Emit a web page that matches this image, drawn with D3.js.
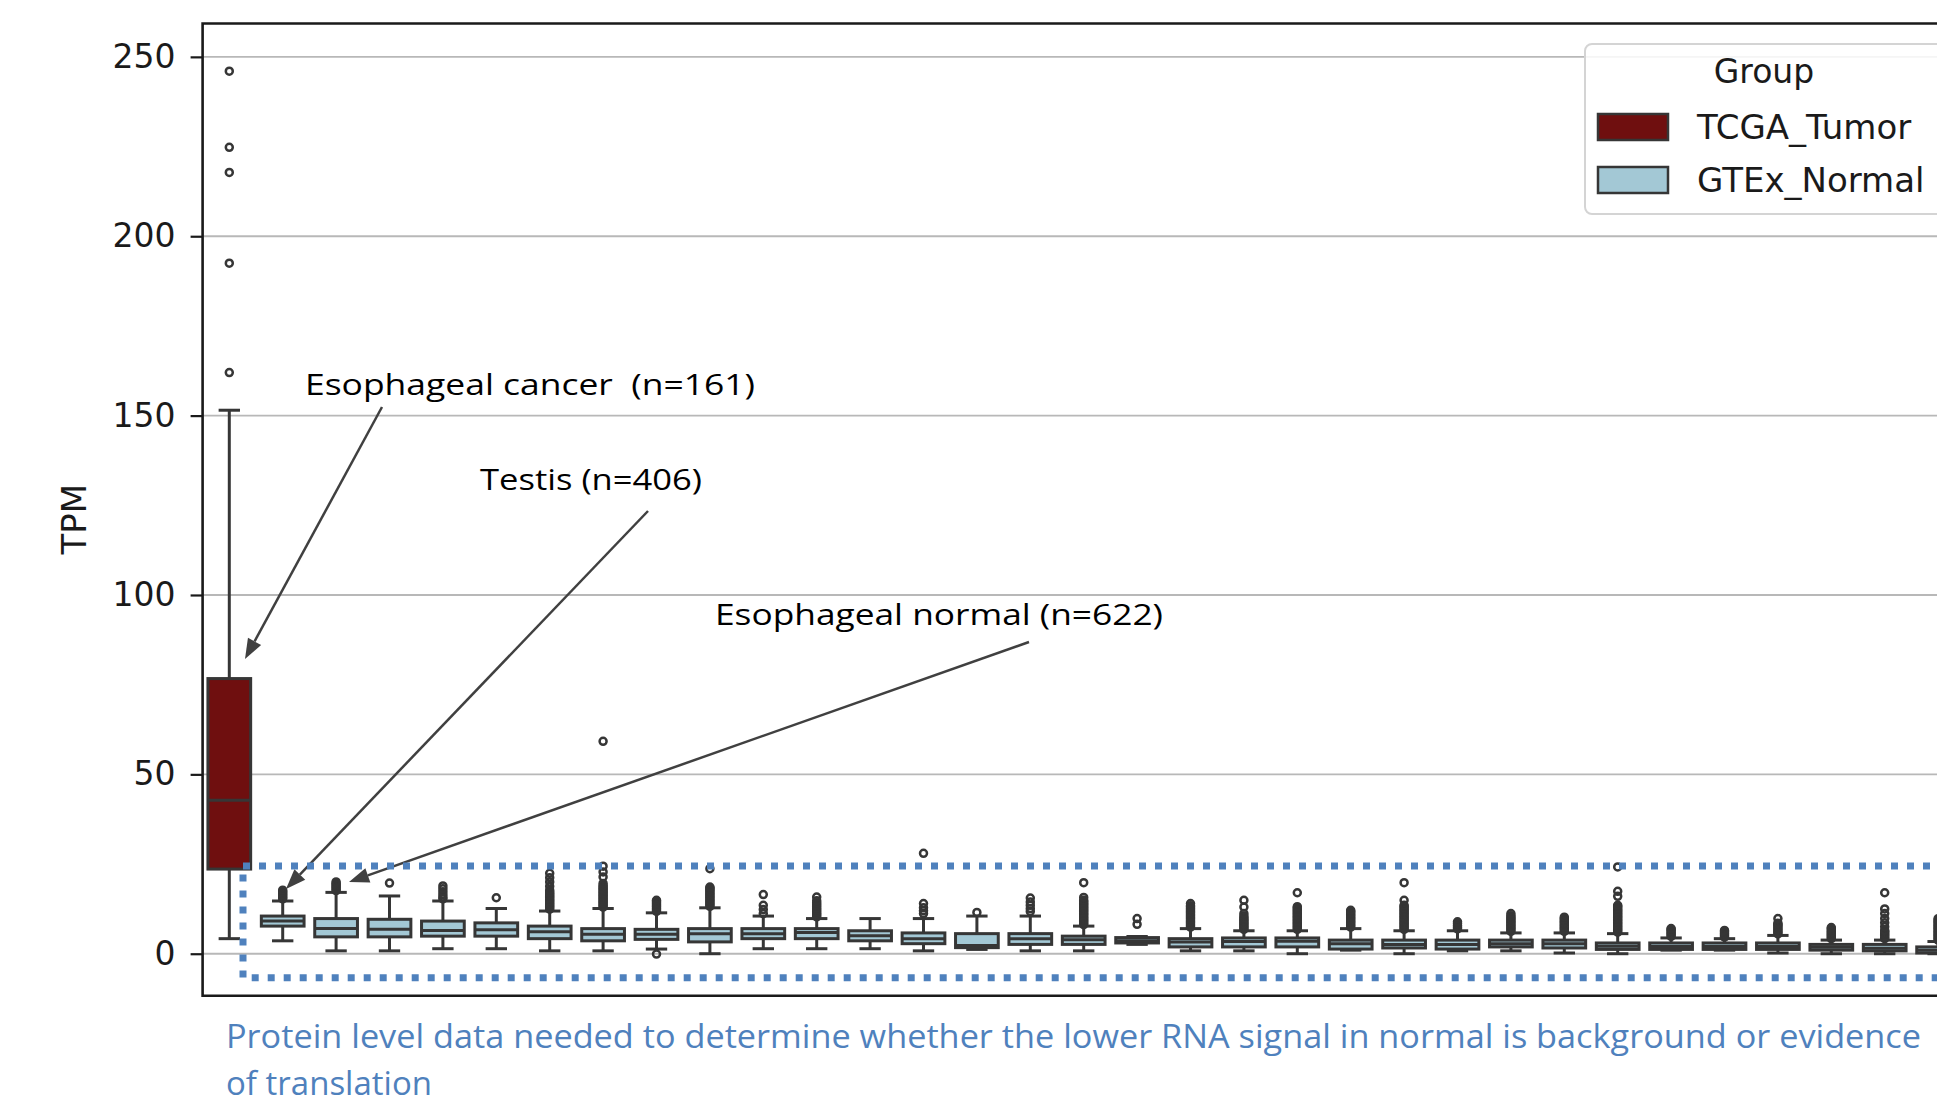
<!DOCTYPE html>
<html>
<head>
<meta charset="utf-8">
<script src="https://cdn.jsdelivr.net/npm/d3@7"></script>
<style>
  body { margin: 0; background: #fff; overflow: hidden; }
  svg { display: block; }
  .pre { white-space: pre; }
</style>
</head>
<body>
<div id="chart"></div>
<script>
// categories (x tick labels are outside the visible crop)
const tissues = [
  "Esophageal cancer", "Testis", "Esophageal normal", "GTEx_04", "GTEx_05", "GTEx_06",
  "GTEx_07", "GTEx_08", "GTEx_09", "GTEx_10", "GTEx_11", "GTEx_12", "GTEx_13",
  "GTEx_14", "GTEx_15", "GTEx_16", "GTEx_17", "GTEx_18", "GTEx_19", "GTEx_20",
  "GTEx_21", "GTEx_22", "GTEx_23", "GTEx_24", "GTEx_25", "GTEx_26", "GTEx_27",
  "GTEx_28", "GTEx_29", "GTEx_30", "GTEx_31", "GTEx_32", "GTEx_33"
];
const groups = ["TCGA_Tumor", "GTEx_Normal"];
const tissueGroup = ["TCGA_Tumor"].concat(tissues.slice(1).map(() => "GTEx_Normal"));

// box statistics (TPM)
const whiskerLow  = [4.2, 3.6, 0.8, 0.8, 1.4, 1.4, 0.8, 0.8, 1.3, 0.0, 1.4, 1.4, 1.4, 0.8, 1.2, 0.8, 0.8,
                     2.6, 0.8, 0.8, 0.0, 1.0, 0.0, 0.8, 0.8, 0.2, 0.0, 1.0, 1.0, 0.2, 0.0, 0.0, 0.0];
const q1          = [23.6, 7.7, 4.7, 4.7, 4.9, 4.9, 4.2, 3.6, 4.0, 3.3, 4.2, 4.2, 3.6, 2.8, 1.7, 2.6, 2.6,
                     3.0, 1.9, 1.9, 1.9, 1.3, 1.6, 1.3, 1.9, 1.6, 1.2, 1.2, 1.2, 1.2, 1.0, 0.8, 0.2];
const median      = [42.8, 9.1, 7.0, 6.8, 6.5, 6.7, 6.1, 5.4, 5.4, 5.6, 5.6, 5.9, 5.0, 4.2, 2.3, 4.2, 3.9,
                     3.6, 3.3, 3.4, 3.5, 2.8, 2.6, 2.6, 2.8, 2.8, 2.1, 2.0, 2.0, 2.0, 1.8, 1.5, 1.0];
const q3          = [76.7, 10.5, 9.8, 9.6, 9.1, 8.6, 7.7, 7.0, 6.8, 7.0, 7.0, 7.0, 6.4, 5.8, 5.6, 5.6, 4.9,
                     4.5, 4.2, 4.4, 4.4, 3.8, 3.8, 3.8, 3.8, 3.8, 3.0, 3.0, 3.0, 3.0, 2.6, 2.6, 1.9];
const whiskerHigh = [151.5, 14.7, 17.1, 16.1, 14.7, 12.6, 11.9, 12.6, 11.4, 12.8, 10.5, 9.8, 9.8, 9.8, 10.5, 10.5, 7.7,
                     4.8, 7.0, 6.4, 6.4, 7.0, 6.4, 6.4, 5.8, 5.8, 5.6, 4.4, 4.2, 5.1, 3.8, 3.8, 3.4];
const outliers = [
  [162.0, 192.5, 217.8, 224.8, 246.0],
  [15.3, 15.7, 16.1, 16.5, 16.9, 17.3, 17.7],
  [17.6, 18.0, 18.4, 18.8, 19.2, 19.6, 20.0],
  [19.7],
  [15.3, 15.8, 16.5, 17.3, 18.1, 18.9],
  [15.6],
  [12.4, 12.8, 13.2, 13.6, 14.0, 14.4, 14.8, 15.2, 15.6, 16.0, 16.4, 16.8, 17.2, 17.7, 18.8, 20.0, 21.2, 22.4],
  [13.0, 13.4, 13.8, 14.2, 14.6, 15.0, 15.4, 15.8, 16.2, 16.6, 17.0, 17.4, 17.8, 18.2, 18.6, 19.0, 19.6, 21.4, 22.8, 24.4, 59.2],
  [-0.1, 11.8, 12.2, 12.6, 13.0, 13.4, 13.8, 14.2, 14.6, 14.9],
  [13.2, 13.6, 14.0, 14.4, 14.8, 15.2, 15.6, 16.0, 16.4, 16.8, 17.2, 17.6, 18.0, 18.3, 18.6, 23.7],
  [11.2, 12.3, 13.5, 16.5],
  [10.3, 10.8, 11.2, 11.7, 12.2, 12.7, 13.2, 13.7, 14.2, 14.8, 15.8],
  [],
  [11.2, 12.0, 12.8, 14.0, 28.0],
  [11.5],
  [11.8, 12.6, 13.5, 14.4, 15.5],
  [8.1, 8.5, 8.9, 9.3, 9.7, 10.1, 10.5, 10.9, 11.3, 11.7, 12.1, 12.5, 12.9, 13.3, 13.7, 14.1, 14.5, 14.9, 15.7, 19.8],
  [8.2, 9.8],
  [7.4, 7.8, 8.2, 8.6, 9.0, 9.4, 9.8, 10.2, 10.6, 11.0, 11.4, 11.8, 12.2, 12.6, 13.0, 13.4, 14.0],
  [6.8, 7.2, 7.6, 8.0, 8.4, 8.8, 9.2, 9.6, 10.0, 10.5, 11.2, 13.0, 14.9],
  [6.8, 7.2, 7.6, 8.0, 8.4, 8.8, 9.2, 9.6, 10.0, 10.4, 10.8, 11.2, 11.6, 12.0, 12.4, 12.8, 13.1, 17.0],
  [7.4, 7.8, 8.2, 8.6, 9.0, 9.4, 9.8, 10.2, 10.6, 11.0, 11.4, 11.8, 12.1],
  [6.8, 7.2, 7.6, 8.0, 8.4, 8.8, 9.2, 9.6, 10.0, 10.4, 10.8, 11.2, 11.6, 12.0, 12.4, 12.8, 13.2, 13.5, 14.9, 19.8],
  [6.9, 7.4, 7.9, 8.4, 8.9],
  [6.2, 6.6, 7.0, 7.4, 7.8, 8.2, 8.6, 9.0, 9.4, 9.8, 10.2, 10.6, 11.2],
  [6.2, 6.6, 7.0, 7.4, 7.8, 8.2, 8.6, 9.0, 9.4, 9.8, 10.2],
  [6.0, 6.4, 6.8, 7.2, 7.6, 8.0, 8.4, 8.8, 9.2, 9.6, 10.0, 10.4, 10.8, 11.2, 11.6, 12.0, 12.4, 12.8, 13.2, 13.5, 16.0, 17.4, 24.2],
  [4.8, 5.2, 5.6, 6.0, 6.4, 6.8, 7.0],
  [4.6, 5.0, 5.4, 5.8, 6.2, 6.5],
  [5.5, 5.9, 6.3, 6.7, 7.1, 7.5, 7.9, 8.2, 8.5, 9.8],
  [4.2, 4.6, 5.0, 5.4, 5.8, 6.2, 6.6, 7.0, 7.3],
  [4.2, 4.6, 5.0, 5.4, 5.8, 6.2, 6.5, 7.5, 8.6, 9.8, 11.2, 12.5, 17.0],
  [3.8, 4.2, 4.6, 5.0, 5.4, 5.8, 6.2, 6.6, 7.0, 7.4, 7.8, 8.2, 8.6, 9.0, 9.4, 9.8]
];
const yTicks = [0, 50, 100, 150, 200, 250];
const yLabel = "TPM";
const legendTitle = "Group";
const notes = ["Esophageal cancer  (n=161)", "Testis (n=406)", "Esophageal normal (n=622)"];
const caption = [
  "Protein level data needed to determine whether the lower RNA signal in normal is background or evidence",
  "of translation"
];

const W = 1937, H = 1105;
const colors = { TCGA_Tumor: "#6f0f0f", GTEx_Normal: "#a3c8d5" };
const edge = "#363636";

const svg = d3.select("#chart").append("svg")
  .attr("width", W).attr("height", H)
  .style("font-family", "'DejaVu Sans', sans-serif");

const plotLeft = 202.6, plotTop = 23.5, plotBottom = 995.7, step = 53.4;

const x = d3.scaleBand().domain(tissues)
  .range([plotLeft, plotLeft + step * tissues.length]).padding(0);
const y = d3.scaleLinear().domain([-11.7, 259.3]).range([plotBottom, plotTop]);
const plotRight = x.range()[1];

// grid
svg.append("g").selectAll("line").data(yTicks).enter().append("line")
  .attr("x1", plotLeft).attr("x2", plotRight)
  .attr("y1", (d) => y(d)).attr("y2", (d) => y(d))
  .attr("stroke", "#b8b8b8").attr("stroke-width", 1.8);

// y axis
const yAxis = svg.append("g")
  .attr("transform", `translate(${plotLeft},0)`)
  .call(d3.axisLeft(y).tickValues(yTicks).tickSize(12).tickPadding(15));
yAxis.select(".domain").remove();
yAxis.selectAll(".tick line").attr("stroke", "#1a1a1a").attr("stroke-width", 2.2);
yAxis.selectAll(".tick text")
  .attr("fill", "#1a1a1a")
  .style("font-size", "33px")
  .style("font-family", "'DejaVu Sans', sans-serif");

svg.append("text")
  .attr("transform", `translate(86,${(y(yTicks[2]) + y(yTicks[3])) / 2 + 14}) rotate(-90)`)
  .attr("text-anchor", "middle")
  .attr("fill", "#1a1a1a")
  .style("font-size", "34px")
  .text(yLabel);

// boxes
const bw = x.bandwidth() * 0.8;
const lw = 3;
const boxes = svg.append("g");
tissues.forEach((t, i) => {
  const cx = x(t) + x.bandwidth() / 2;
  const g = boxes.append("g");
  g.append("line")
    .attr("x1", cx).attr("x2", cx)
    .attr("y1", y(whiskerLow[i])).attr("y2", y(q1[i]))
    .attr("stroke", edge).attr("stroke-width", lw);
  g.append("line")
    .attr("x1", cx).attr("x2", cx)
    .attr("y1", y(q3[i])).attr("y2", y(whiskerHigh[i]))
    .attr("stroke", edge).attr("stroke-width", lw);
  [whiskerLow[i], whiskerHigh[i]].forEach((v) => {
    g.append("line")
      .attr("x1", cx - bw / 4).attr("x2", cx + bw / 4)
      .attr("y1", y(v)).attr("y2", y(v))
      .attr("stroke", edge).attr("stroke-width", lw);
  });
  g.append("rect")
    .attr("x", cx - bw / 2).attr("width", bw)
    .attr("y", y(q3[i])).attr("height", y(q1[i]) - y(q3[i]))
    .attr("fill", colors[tissueGroup[i]])
    .attr("stroke", edge).attr("stroke-width", lw);
  g.append("line")
    .attr("x1", cx - bw / 2).attr("x2", cx + bw / 2)
    .attr("y1", y(median[i])).attr("y2", y(median[i]))
    .attr("stroke", edge).attr("stroke-width", lw);
  g.selectAll("circle").data(outliers[i]).enter().append("circle")
    .attr("cx", cx).attr("cy", (d) => y(d)).attr("r", 3.5)
    .attr("fill", "none").attr("stroke", edge).attr("stroke-width", 2.5);
});

// frame
svg.append("path")
  .attr("d", `M${plotRight},${plotTop}H${plotLeft}V${plotBottom}H${plotRight}`)
  .attr("fill", "none").attr("stroke", "#1a1a1a").attr("stroke-width", 2.6);

// annotations
const noteStyle = (sel) => sel
  .attr("class", "pre")
  .attr("fill", "#000")
  .style("font-family", "'Open Sans', sans-serif")
  .style("font-size", "30px")
  .attr("lengthAdjust", "spacingAndGlyphs");
const notePos = [[305, 394.5, 450], [480, 490, 222], [715, 625, 448]];
notes.forEach((n, i) => {
  svg.append("text").call(noteStyle)
    .attr("x", notePos[i][0]).attr("y", notePos[i][1])
    .attr("textLength", notePos[i][2])
    .text(n);
});

function arrow(x1, y1, x2, y2) {
  const dx = x2 - x1, dy = y2 - y1, L = Math.hypot(dx, dy);
  const ux = dx / L, uy = dy / L;
  const hl = 20, hw = 7.5;
  const bx = x2 - ux * hl, by = y2 - uy * hl;
  svg.append("line")
    .attr("x1", x1).attr("y1", y1).attr("x2", bx).attr("y2", by)
    .attr("stroke", "#404040").attr("stroke-width", 2.5);
  svg.append("path")
    .attr("d", `M${x2},${y2}L${bx - uy * hw},${by + ux * hw}L${bx + uy * hw},${by - ux * hw}Z`)
    .attr("fill", "#404040");
}
arrow(382, 407, 245, 659);
arrow(648, 511, 286, 889);
arrow(1029, 642, 349, 882);

// dotted highlight box
svg.append("rect")
  .attr("x", 243).attr("y", 866)
  .attr("width", 1800).attr("height", 111.7)
  .attr("fill", "none")
  .attr("stroke", "#4f81bd").attr("stroke-width", 7)
  .attr("stroke-dasharray", "7 9");

// caption
caption.forEach((c, i) => {
  svg.append("text")
    .attr("x", 226).attr("y", 1047.5 + i * 47.5)
    .attr("fill", "#4f81bd")
    .style("font-family", "'Open Sans', sans-serif")
    .style("font-size", "32px")
    .attr("textLength", i === 0 ? 1695 : 206)
    .attr("lengthAdjust", "spacingAndGlyphs")
    .text(c);
});

// legend
const lg = svg.append("g");
lg.append("rect")
  .attr("x", 1585).attr("y", 44).attr("width", 358).attr("height", 170).attr("rx", 7)
  .attr("fill", "#fff").attr("fill-opacity", 0.85)
  .attr("stroke", "#d4d4d4").attr("stroke-width", 2);
lg.append("text")
  .attr("x", 1764).attr("y", 83)
  .attr("text-anchor", "middle").attr("fill", "#1a1a1a")
  .style("font-size", "33px")
  .text(legendTitle);
groups.forEach((gname, i) => {
  lg.append("rect")
    .attr("x", 1598).attr("y", 114 + i * 53)
    .attr("width", 70).attr("height", 26)
    .attr("fill", colors[gname]).attr("stroke", edge).attr("stroke-width", 2.5);
  lg.append("text")
    .attr("x", 1697).attr("y", 139 + i * 53)
    .attr("fill", "#1a1a1a")
    .style("font-size", "34px")
    .text(gname);
});
</script>
</body>
</html>
